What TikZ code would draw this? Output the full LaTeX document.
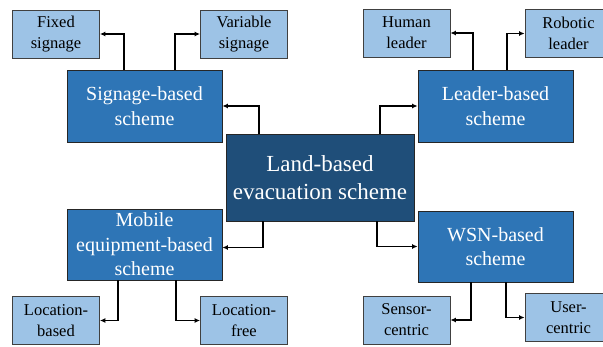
\documentclass[tikz,border=0pt]{standalone}
\usepackage{fontspec}
\setmainfont{Liberation Serif}
\usetikzlibrary{arrows.meta}
\definecolor{darkblue}{HTML}{1F4E79}
\definecolor{midblue}{HTML}{2E75B6}
\definecolor{lightblue}{HTML}{9DC3E6}

\begin{document}
\begin{tikzpicture}[
        x=1pt, y=-1pt,
        >={Latex[length=5.5pt,width=5pt]},
        root_box/.style={rectangle, draw=black!85, line width=0.8pt, fill=darkblue, text=white, minimum width=188pt, minimum height=87pt, inner sep=2pt, align=center, font=\fontsize{23}{28}\selectfont},
        scheme_box/.style={rectangle, draw=black!85, line width=0.8pt, fill=midblue, text=white, minimum width=155pt, minimum height=72pt, inner sep=2pt, align=center, font=\fontsize{20}{24.5}\selectfont},
        sub_box/.style={rectangle, draw=black!75, line width=0.8pt, fill=lightblue, text=black, minimum width=87pt, minimum height=48pt, inner sep=2pt, align=center, font=\fontsize{16.5}{21}\selectfont},
        link/.style={->, line width=1.3pt}
    ]
        \useasboundingbox (0,0) rectangle (603,346);
        \clip (0,0) rectangle (603,346);

        % Root node
        \node[root_box] (land) at (320,177.5) {Land-based\\evacuation scheme};

        % Scheme nodes
        \node[scheme_box] (signage) at (144.5,106) {Signage-based\\scheme};
        \node[scheme_box] (leader) at (495.5,106) {Leader-based\\scheme};
        \node[scheme_box, minimum height=71pt] (mobile) at (144.5,244.5) {Mobile\\equipment-based\\scheme};
        \node[scheme_box, minimum height=71pt] (wsn) at (495.5,246.5) {WSN-based\\scheme};

        % Sub-type nodes
        \node[sub_box] (fixed) at (56,34) {Fixed\\signage};
        \node[sub_box] (variable) at (244,34) {Variable\\signage};
        \node[sub_box] (human) at (406.5,33) {Human\\leader};
        \node[sub_box] (robotic) at (568.5,33.5) {Robotic\\leader};
        \node[sub_box] (locbased) at (56,320.5) {Location-\\based};
        \node[sub_box] (locfree) at (244,320.5) {Location-\\free};
        \node[sub_box] (sensor) at (406.5,320) {Sensor-\\centric};
        \node[sub_box] (user) at (568.5,317.5) {User-\\centric};

        % Root to schemes
        \draw[link] ([xshift=-61pt]land.north) |- (signage.east);
        \draw[link] ([xshift=60pt]land.north) |- (leader.west);
        \draw[link] ([xshift=-57pt]land.south) |- ([yshift=-3pt]mobile.east);
        \draw[link] ([xshift=57pt]land.south) |- (wsn.west);

        % Schemes to sub-types
        \draw[link] ([xshift=-20.5pt]signage.north) |- (fixed.east);
        \draw[link] ([xshift=30.5pt]signage.north) |- (variable.west);
        \draw[link] ([xshift=-22.5pt]leader.north) |- (human.east);
        \draw[link] ([xshift=11.5pt]leader.north) |- (robotic.west);
        \draw[link] ([xshift=-26.5pt]mobile.south) |- (locbased.east);
        \draw[link] ([xshift=31.5pt]mobile.south) |- (locfree.west);
        \draw[link] ([xshift=-24.5pt]wsn.south) |- (sensor.east);
        \draw[link] ([xshift=10.5pt]wsn.south) |- (user.west);

    \end{tikzpicture}
\end{document}
